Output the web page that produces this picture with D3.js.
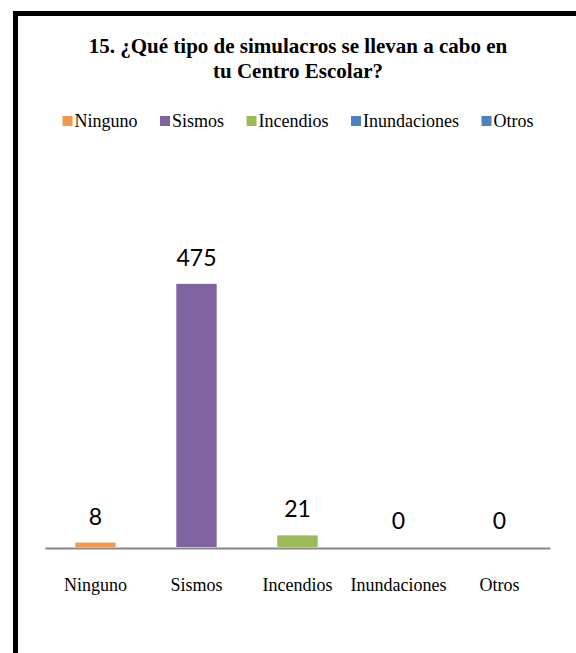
<!DOCTYPE html>
<html>
<head>
  <meta charset="utf-8">
  <style type="text/css">
    body { margin: 0; background: #fff; }
  </style>
  <script src="https://d3js.org/d3.v7.min.js"></script>
</head>
<body>
  <div id="chart"></div>
  <script type="text/javascript">
    // chart data
    var categories = ["Ninguno", "Sismos", "Incendios", "Inundaciones", "Otros"];
    var values = [8, 475, 21, 0, 0];
    var colors = ["#F79646", "#8064A2", "#9BBB59", "#4F81BD", "#4F81BD"];
    var titleLines = ["15. ¿Qué tipo de simulacros se llevan a cabo en", "tu Centro Escolar?"];

    var serif = "Liberation Serif, Times New Roman, serif";
    var width = 576, height = 653;

    var svg = d3.select("#chart")
      .append("svg")
        .attr("width", width)
        .attr("height", height);

    // thick black frame, cut off at the right and bottom
    svg.append("rect")
      .attr("x", 15.5).attr("y", 13.5)
      .attr("width", 700).attr("height", 800)
      .attr("fill", "none")
      .attr("stroke", "#000")
      .attr("stroke-width", 5);

    // title
    svg.append("g")
      .attr("font-family", serif)
      .attr("font-size", 21)
      .attr("font-weight", "bold")
      .attr("text-anchor", "middle")
      .selectAll("text")
      .data(titleLines)
      .join("text")
        .attr("x", 298)
        .attr("y", function(d, i) { return 53 + i * 24.5; })
        .text(function(d) { return d; });

    // legend items (positioned once fonts are ready)
    var legend = svg.append("g")
      .attr("font-family", serif)
      .attr("font-size", 18);
    var items = legend.selectAll("g")
      .data(categories)
      .join("g");
    items.append("rect")
      .attr("x", 0).attr("y", -10.5)
      .attr("width", 10).attr("height", 10)
      .attr("fill", function(d, i) { return colors[i]; });
    items.append("text")
      .attr("x", 12).attr("y", 0)
      .text(function(d) { return d; });

    // scales
    var x = d3.scaleBand()
      .domain(categories)
      .range([45, 550])
      .paddingInner(0.6)
      .paddingOuter(0.3);

    var y = d3.scaleLinear()
      .domain([0, 500])
      .range([547, 270]);

    // bars
    svg.selectAll(".bar")
      .data(values)
      .join("rect")
        .attr("class", "bar")
        .attr("x", function(d, i) { return x(categories[i]); })
        .attr("y", function(d) { return y(d); })
        .attr("width", x.bandwidth())
        .attr("height", function(d) { return y(0) - y(d); })
        .attr("fill", function(d, i) { return colors[i]; });

    // value labels
    svg.selectAll(".val")
      .data(values)
      .join("text")
        .attr("class", "val")
        .attr("x", function(d, i) { return x(categories[i]) + x.bandwidth() / 2; })
        .attr("y", function(d) { return y(d) - 18; })
        .attr("text-anchor", "middle")
        .attr("font-family", "Lato, Carlito, Calibri, sans-serif")
        .attr("font-size", 23)
        .text(function(d) { return d; });

    // category axis
    var axis = svg.append("g")
      .attr("transform", "translate(0,548)")
      .call(d3.axisBottom(x).tickSize(0).tickPadding(30))
      .attr("font-family", serif)
      .attr("font-size", 18);
    axis.selectAll("text").attr("fill", "#000");
    axis.select(".domain")
      .attr("stroke", "#868686")
      .attr("stroke-width", 2);

    function layoutLegend() {
      var lx = 0;
      items.each(function() {
        var g = d3.select(this);
        g.attr("transform", "translate(" + lx + ",0)");
        lx += 12 + g.select("text").node().getComputedTextLength() + 22.5;
      });
      lx -= 22.5;
      legend.attr("transform", "translate(" + (298 - lx / 2) + ",126.5)");
    }
    layoutLegend();
    if (document.fonts && document.fonts.ready) document.fonts.ready.then(layoutLegend);
  </script>
</body>
</html>
